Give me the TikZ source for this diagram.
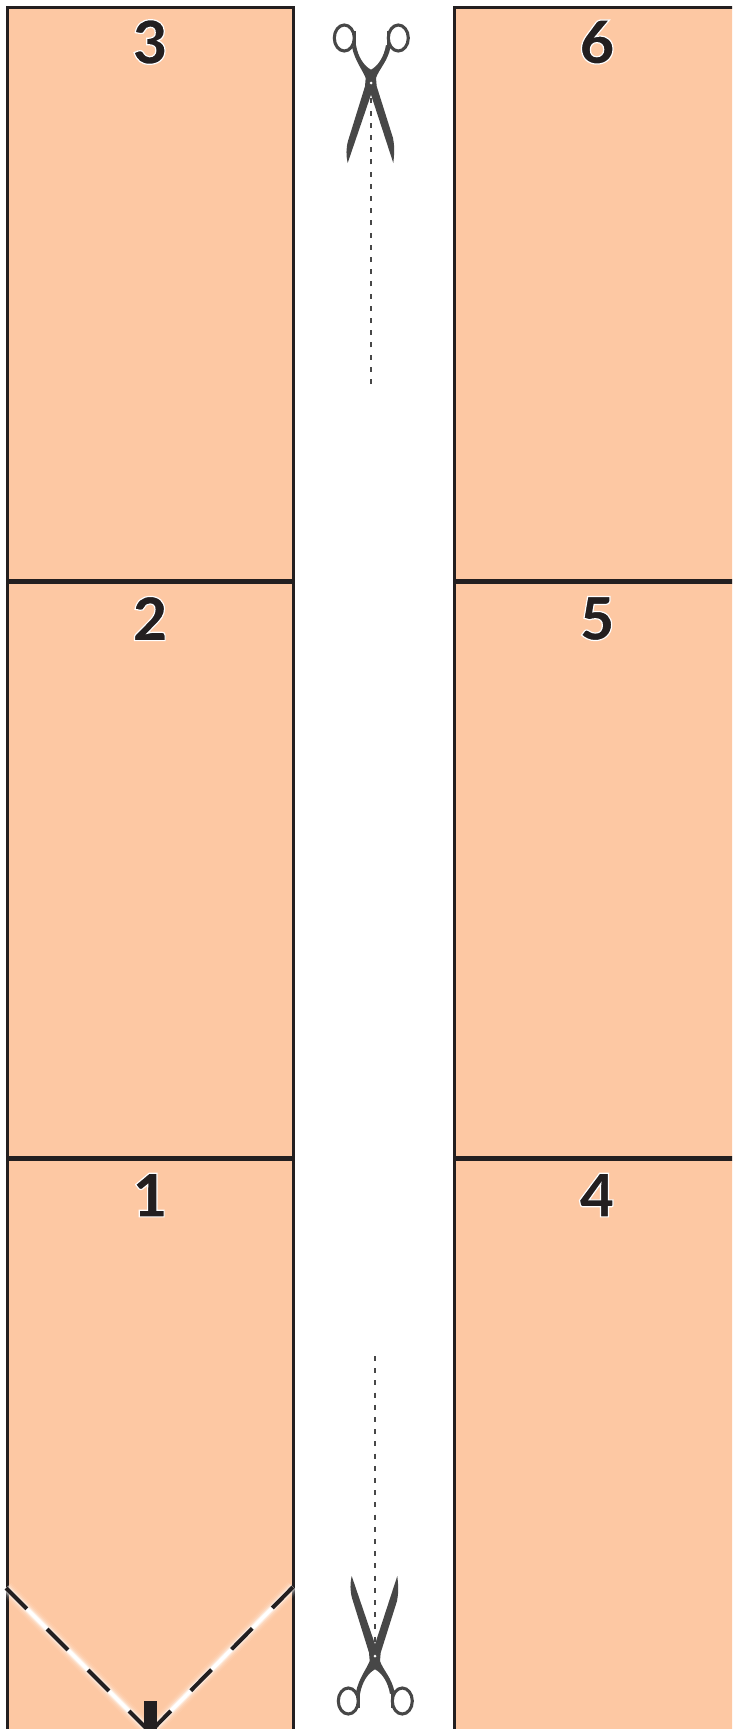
\documentclass[tikz,border=0pt]{standalone}
\usepackage{fontspec}
\newfontfamily\numfont{Lato Black}
\definecolor{peach}{HTML}{FDC8A3}
\definecolor{inkdark}{HTML}{231F20}
\definecolor{scissorgrey}{HTML}{474747}
\newcommand{\outlined}[1]{\special{pdf:code q 2 Tr 1 1 1 RG 1.2 w}#1\special{pdf:code Q}}
\tikzset{
  panelbox/.style={fill=peach,draw=inkdark,line width=3pt},
  divider/.style={draw=inkdark,line width=5pt},
  digit/.style={inner sep=0pt,text=inkdark,font=\numfont\fontsize{60}{60}\selectfont},
  cutline/.style={draw=scissorgrey,line width=2pt,dash pattern=on 5pt off 7.2pt},
  foldblack/.style={draw=inkdark,line width=4pt,dash pattern=on 29.5pt off 28.5pt},
  scissors/.pic={
    \fill[scissorgrey] (0,-13.3) .. controls (7,-17) and (13,-26) .. (15,-38)
      -- (19.5,-36) .. controls (17,-22) and (8,-14) .. (5,-5)
      -- (5.7,3.3) -- (22,55) .. controls (23.5,62) and (23.5,70) .. (22.3,80)
      -- (0,11.7) -- (-23.3,80) .. controls (-25,72) and (-25,66) .. (-23,58)
      -- (-6,3.3) -- (-5.3,-5) .. controls (-9,-14) and (-16,-22) .. (-19,-36)
      -- (-15,-38) .. controls (-13,-26) and (-7,-17) .. (0,-13.3) -- cycle;
    \draw[scissorgrey,line width=3.1pt] (-26.7,-45) ellipse [x radius=10,y radius=13];
    \draw[scissorgrey,line width=3.1pt] (27.3,-45) ellipse [x radius=10,y radius=13];
    \draw[scissorgrey,line width=3pt] (-16.5,-52) -- (-16.5,-37);
    \draw[scissorgrey,line width=3pt] (17,-52) -- (17,-37);
    \fill[white] (0,0) circle (1.5);
  }
}
\begin{document}
\begin{tikzpicture}[x=1pt,y=-1pt]
\useasboundingbox (0,0) rectangle (732,1729);
\fill[white] (0,0) rectangle (732,1729);
\begin{scope}
\clip (0,0) rectangle (732,1729);
\draw[panelbox] (7.5,7) rectangle (293,1740);
\draw[panelbox] (454.5,7) rectangle (745,1740);
\path[divider] (7.5,581.7) -- (293,581.7);
\path[divider] (7.5,1158.3) -- (293,1158.3);
\path[divider] (454.5,581.7) -- (745,581.7);
\path[divider] (454.5,1158.3) -- (745,1158.3);
% white glow along the fold
\foreach \w/\o in {15/.06,12/.1,9.5/.16,7/.3,5/.5,3.5/1}{
  \draw[white,opacity=\o,line width=\w pt] (6,1588) -- (150,1732) -- (293,1587);
}
\fill[inkdark] (143.5,1701) rectangle (156.5,1735);
\path[foldblack] (6,1588) -- (150,1732);
\path[foldblack] (293,1587) -- (150,1732);
\end{scope}
\node[digit] (n3) at (150,42) {\outlined{3}};
\node[digit] (n2) at (150,618.5) {\outlined{2}};
\node[digit] (n1) at (150,1195) {\outlined{1}};
\node[digit] (n6) at (597,42) {\outlined{6}};
\node[digit] (n5) at (597,618.5) {\outlined{5}};
\node[digit] (n4) at (597,1195) {\outlined{4}};
% scissors and cut lines
\coordinate (topend) at (371,384);
\coordinate (toppivot) at (371,83);
\coordinate (botend) at (375,1356);
\coordinate (botpivot) at (375,1656);
\path[cutline] (topend) -- (toppivot);
\path[cutline] (botend) -- (botpivot);
\pic at (toppivot) {scissors};
\pic[yscale=-1] at (botpivot) {scissors};
\end{tikzpicture}
\end{document}
